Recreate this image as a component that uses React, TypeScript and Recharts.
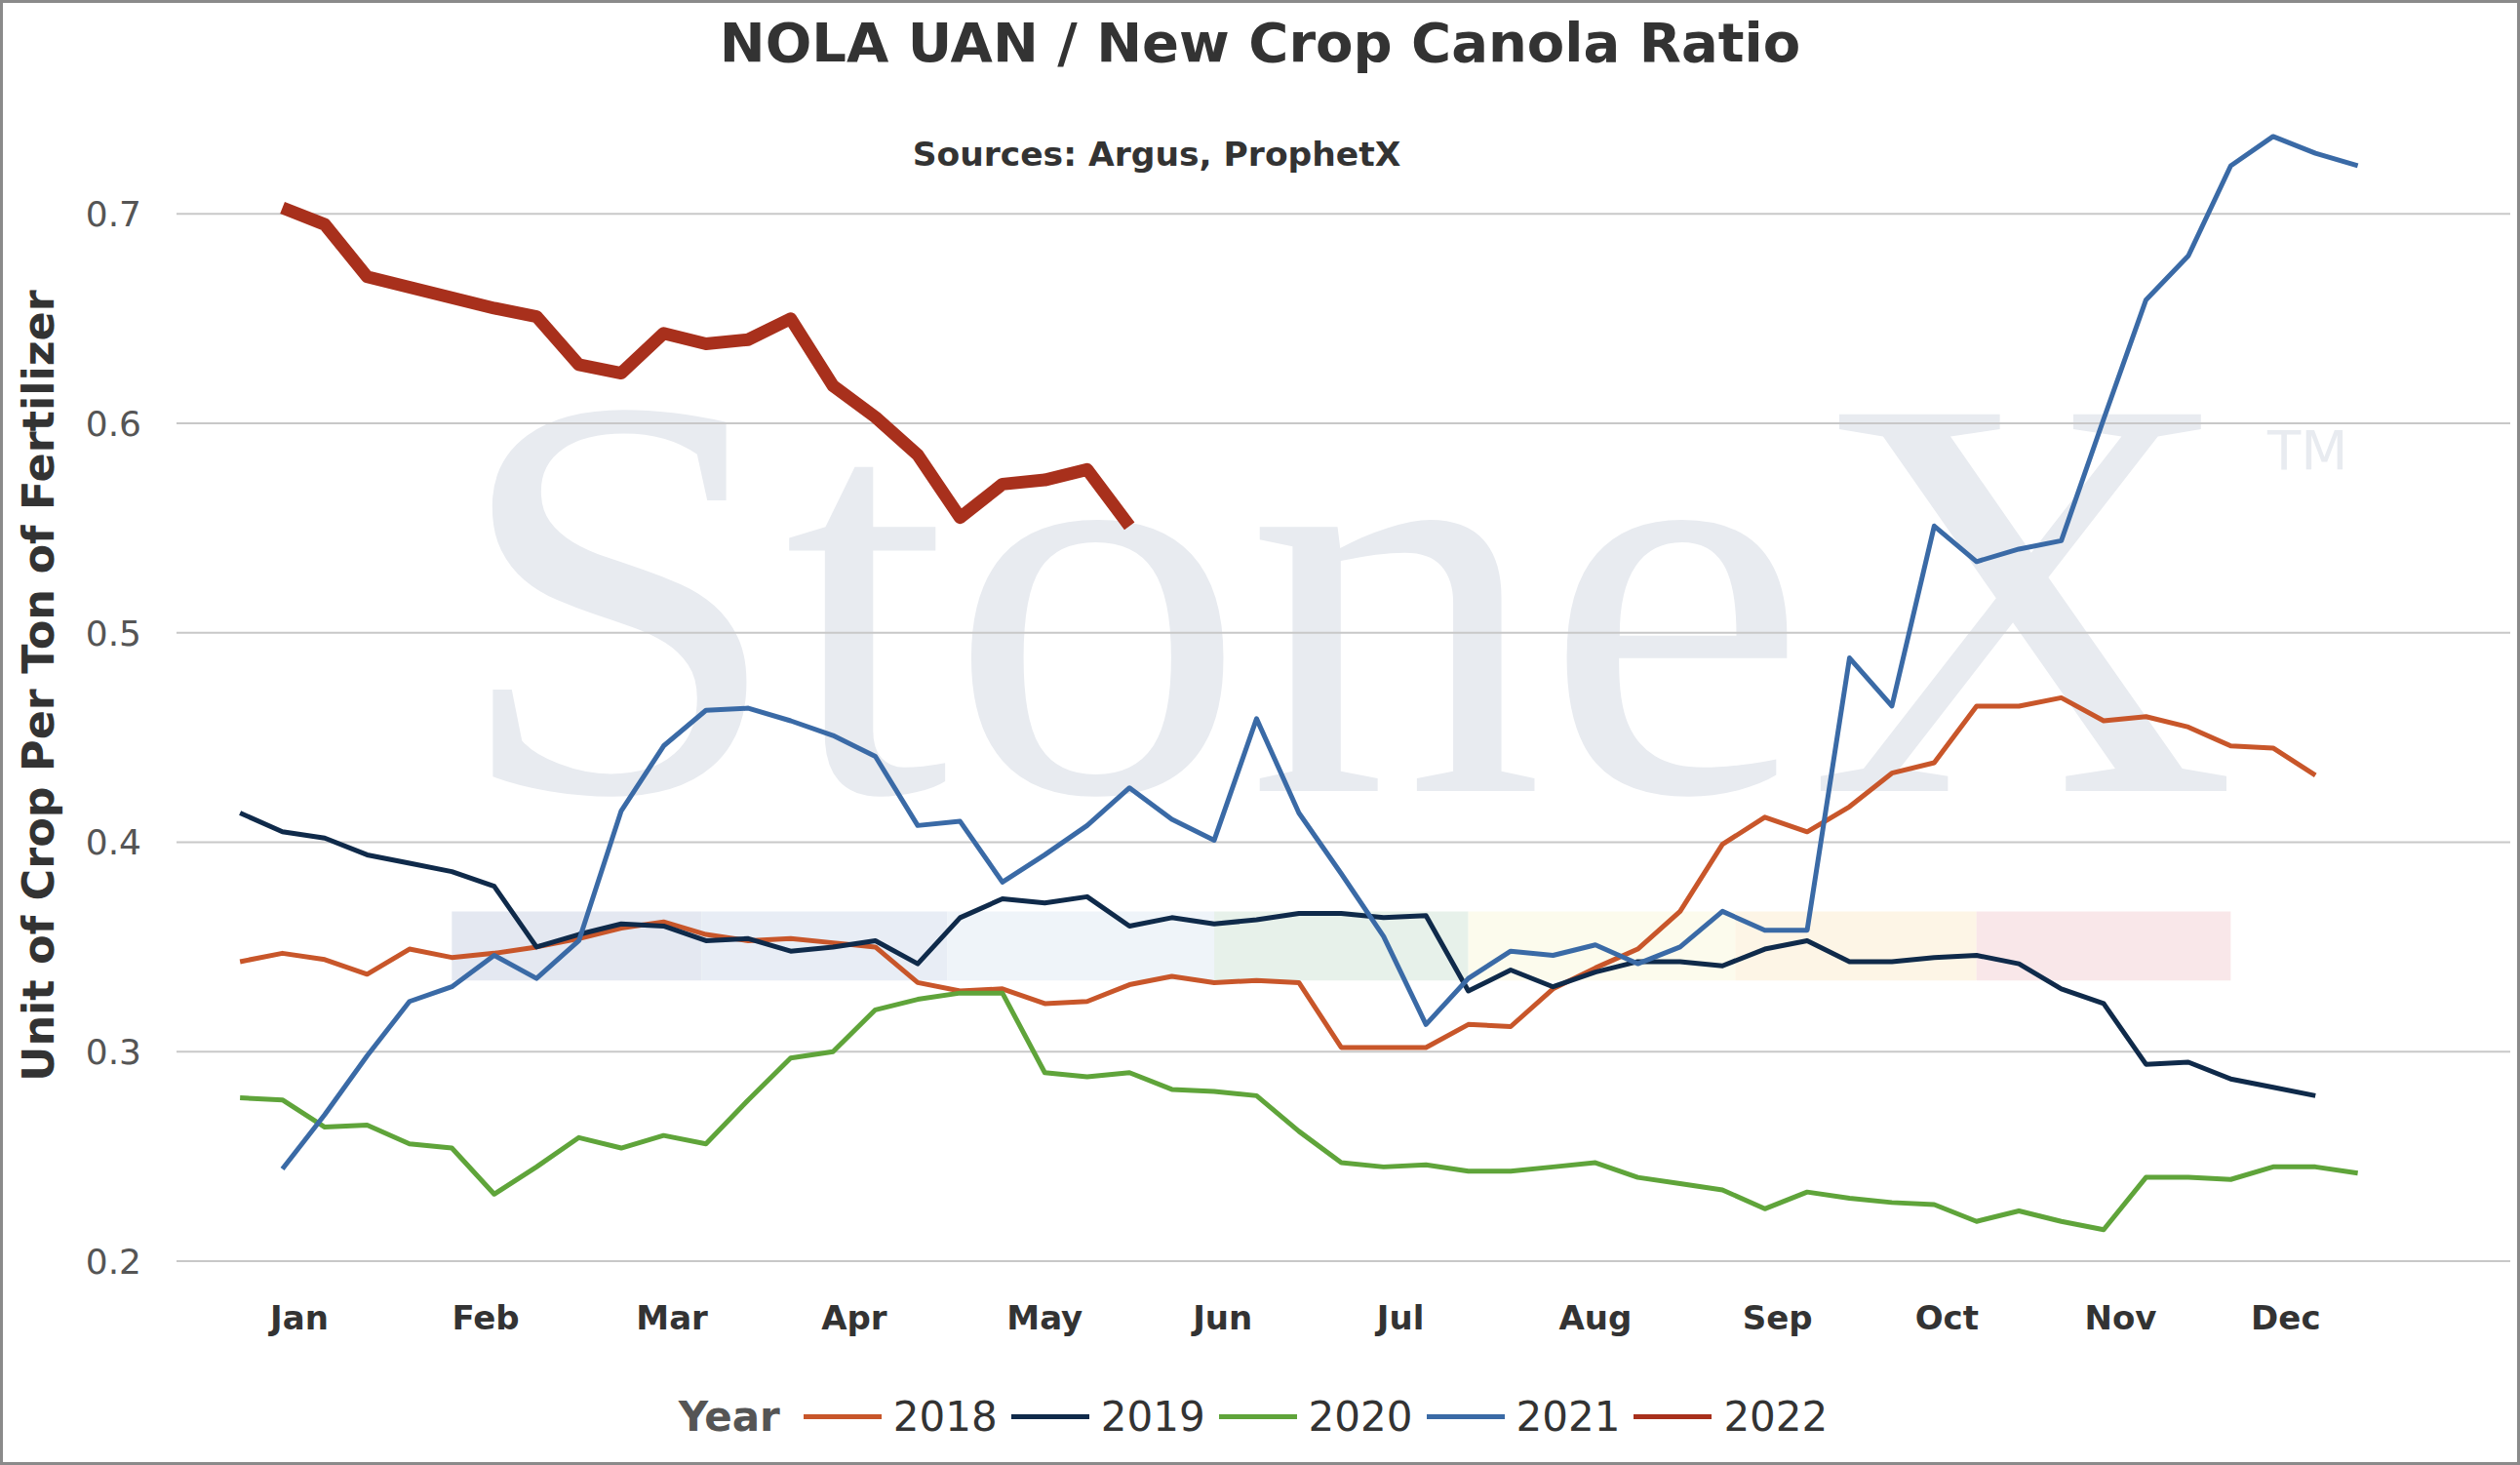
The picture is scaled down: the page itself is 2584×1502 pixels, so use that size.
import { LineChart, Line, XAxis, YAxis, CartesianGrid, ReferenceArea } from 'recharts';

const weeks = Array.from({ length: 51 }, (_, i) => i);

const y2018 = [0.343, 0.347, 0.344, 0.337, 0.349, 0.345, 0.347, 0.350, 0.354, 0.359, 0.362, 0.356, 0.353, 0.354, 0.352, 0.350, 0.333, 0.329, 0.330, 0.323, 0.324, 0.332, 0.336, 0.333, 0.334, 0.333, 0.302, 0.302, 0.302, 0.313, 0.312, 0.330, 0.340, 0.349, 0.367, 0.399, 0.412, 0.405, 0.417, 0.433, 0.438, 0.465, 0.465, 0.469, 0.458, 0.460, 0.455, 0.446, 0.445, 0.432];
const y2019 = [0.414, 0.405, 0.402, 0.394, 0.390, 0.386, 0.379, 0.350, 0.356, 0.361, 0.360, 0.353, 0.354, 0.348, 0.350, 0.353, 0.342, 0.364, 0.373, 0.371, 0.374, 0.360, 0.364, 0.361, 0.363, 0.366, 0.366, 0.364, 0.365, 0.329, 0.339, 0.331, 0.338, 0.343, 0.343, 0.341, 0.349, 0.353, 0.343, 0.343, 0.345, 0.346, 0.342, 0.330, 0.323, 0.294, 0.295, 0.287, 0.283, 0.279];
const y2020 = [0.278, 0.277, 0.264, 0.265, 0.256, 0.254, 0.232, 0.245, 0.259, 0.254, 0.260, 0.256, 0.277, 0.297, 0.300, 0.320, 0.325, 0.328, 0.328, 0.290, 0.288, 0.290, 0.282, 0.281, 0.279, 0.262, 0.247, 0.245, 0.246, 0.243, 0.243, 0.245, 0.247, 0.240, 0.237, 0.234, 0.225, 0.233, 0.230, 0.228, 0.227, 0.219, 0.224, 0.219, 0.215, 0.240, 0.240, 0.239, 0.245, 0.245, 0.242];
const y2021 = [null, 0.244, 0.270, 0.298, 0.324, 0.331, 0.346, 0.335, 0.353, 0.415, 0.446, 0.463, 0.464, 0.458, 0.451, 0.441, 0.408, 0.410, 0.381, 0.394, 0.408, 0.426, 0.411, 0.401, 0.459, 0.414, 0.385, 0.355, 0.313, 0.335, 0.348, 0.346, 0.351, 0.342, 0.350, 0.367, 0.358, 0.358, 0.488, 0.465, 0.551, 0.534, 0.540, 0.544, 0.602, 0.659, 0.680, 0.723, 0.737, 0.729, 0.723];
const y2022 = [null, 0.703, 0.695, 0.670, 0.665, 0.660, 0.655, 0.651, 0.628, 0.624, 0.643, 0.638, 0.640, 0.650, 0.618, 0.603, 0.585, 0.555, 0.571, 0.573, 0.578, 0.551];

const yTicks = [0.2, 0.3, 0.4, 0.5, 0.6, 0.7];
const monthTicks = [1.4, 5.8, 10.2, 14.5, 19, 23.2, 27.4, 32, 36.3, 40.3, 44.4, 48.3];
const monthLabels = ['Jan', 'Feb', 'Mar', 'Apr', 'May', 'Jun', 'Jul', 'Aug', 'Sep', 'Oct', 'Nov', 'Dec'];

const series = [
  { key: 'y2018', name: '2018', values: y2018, color: '#c8562a', width: 5 },
  { key: 'y2019', name: '2019', values: y2019, color: '#0f2a4a', width: 5 },
  { key: 'y2020', name: '2020', values: y2020, color: '#5fa43a', width: 5 },
  { key: 'y2021', name: '2021', values: y2021, color: '#3a6aa6', width: 5 },
  { key: 'y2022', name: '2022', values: y2022, color: '#a8301c', width: 13 },
];

const bands = [
  { x1: 5, x2: 10.9, color: '#dfe4ee' },
  { x1: 10.9, x2: 16.7, color: '#e4eaf3' },
  { x1: 16.7, x2: 23, color: '#ecf2f8' },
  { x1: 23, x2: 29, color: '#e3efe6' },
  { x1: 29, x2: 35.3, color: '#fbfaea' },
  { x1: 35.3, x2: 41, color: '#fdf3e2' },
  { x1: 41, x2: 47, color: '#f8e3e5' },
];

const data = weeks.map((w, i) => {
  const row: any = { week: w };
  series.forEach((s) => {
    row[s.key] = s.values[i] ?? null;
  });
  return row;
});

const font = 'Verdana, "DejaVu Sans", sans-serif';

export default function App() {
  return (
    <div style={{ position: 'absolute', left: 0, top: 0, width: 2584, height: 1502, boxSizing: 'border-box', border: '3px solid #8a8a8a', background: '#fff', fontFamily: font, overflow: 'hidden' }}>
      <svg width={2584} height={1502} style={{ position: 'absolute', left: 0, top: 0 }}>
        <text x={461} y={808} fontFamily='"Liberation Serif", serif' fontSize={590} fill="#e8ebf0" textLength={1830} lengthAdjust="spacingAndGlyphs">StoneX</text>
        <text x={2322} y={478} fontFamily={font} fontSize={56} fill="#e8ebf0">TM</text>
      </svg>
      <div style={{ position: 'absolute', top: 8, width: '100%', textAlign: 'center', fontWeight: 'bold', fontSize: 56, color: '#333' }}>NOLA UAN / New Crop Canola Ratio</div>
      <div style={{ position: 'absolute', top: 135, left: 1183, transform: 'translateX(-50%)', whiteSpace: 'nowrap', fontWeight: 'bold', fontSize: 34.5, color: '#333' }}>Sources: Argus, ProphetX</div>
      <div style={{ position: 'absolute', left: 36, top: 700, transform: 'translate(-50%, -50%) rotate(-90deg)', transformOrigin: 'center', whiteSpace: 'nowrap', fontWeight: 'bold', fontSize: 44.5, color: '#333' }}>Unit of Crop Per Ton of Fertilizer</div>
      <div style={{ position: 'absolute', left: 0, top: 0 }}>
        <LineChart width={2584} height={1502} data={data} margin={{ top: 109, right: 13, bottom: 152, left: 88 }}>
          <CartesianGrid vertical={false} stroke="#c8c8c8" strokeWidth={2} horizontalValues={yTicks} />
          {bands.map((b, i) => (
            <ReferenceArea key={i} x1={b.x1} x2={b.x2} y1={0.334} y2={0.367} fill={b.color} fillOpacity={0.85} stroke="none" />
          ))}
          <XAxis dataKey="week" type="number" domain={[-1.5, 53.6]} ticks={monthTicks} tickFormatter={(v) => monthLabels[monthTicks.indexOf(v)]} axisLine={false} tickLine={false} height={60} tickMargin={40} tick={{ fontSize: 34, fontWeight: 'bold', fill: '#333', fontFamily: font }} />
          <YAxis type="number" domain={[0.2, 0.75]} ticks={yTicks} tickFormatter={(v) => String(v)} axisLine={false} tickLine={false} width={90} tickMargin={30} tick={{ fontSize: 36, fill: '#555', fontFamily: font }} />
          {series.map((s) => (
            <Line key={s.key} dataKey={s.key} name={s.name} type="linear" stroke={s.color} strokeWidth={s.width} dot={false} isAnimationActive={false} connectNulls={false} strokeLinejoin="round" />
          ))}
        </LineChart>
      </div>
      <div style={{ position: 'absolute', top: 1425, width: '100%', display: 'flex', justifyContent: 'center', alignItems: 'center', fontSize: 42, color: '#333' }}>
        <span style={{ fontWeight: 'bold', color: '#555', marginRight: 24 }}>Year</span>
        {series.map((s) => (
          <span key={s.key} style={{ display: 'flex', alignItems: 'center', marginRight: 14 }}>
            <span style={{ display: 'inline-block', width: 80, height: 5, background: s.color, marginRight: 12 }} />
            {s.name}
          </span>
        ))}
      </div>
    </div>
  );
}
